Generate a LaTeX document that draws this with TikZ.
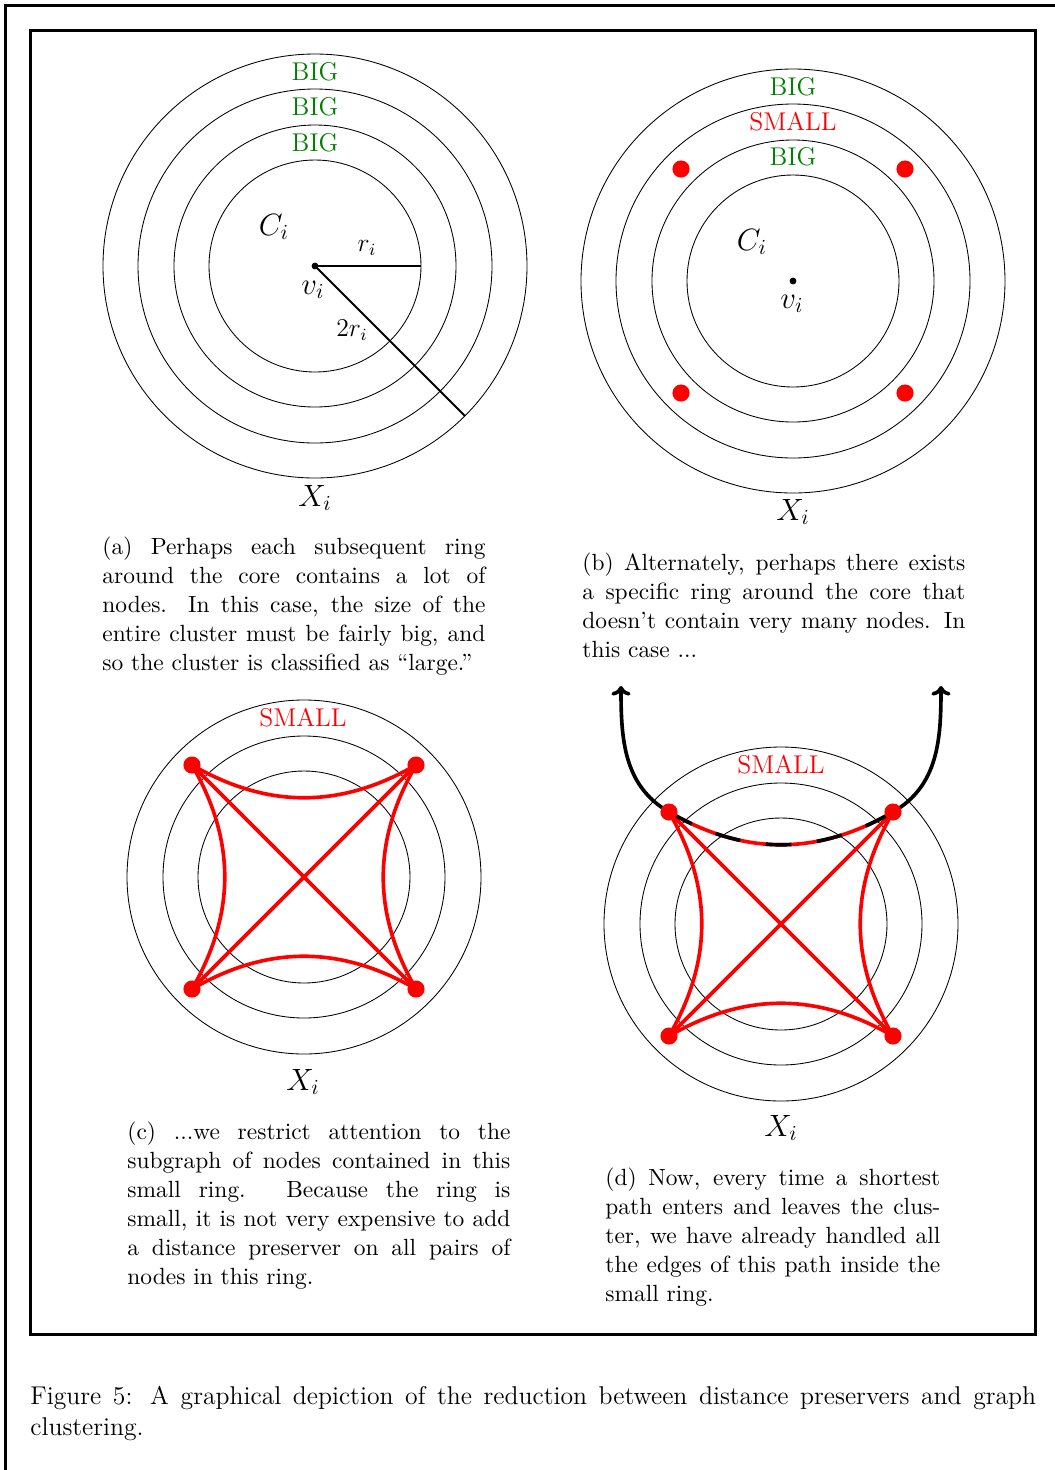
\documentclass[tikz,border=0pt]{standalone}
\usepackage{tikz}
\usetikzlibrary{backgrounds, arrows.meta}
\definecolor{bigcol}{rgb}{0,0.5,0}
\hyphenation{subgraph distance}

\begin{document}
\begin{tikzpicture}[
  x=0.4673pt, y=0.4673pt,
  every node/.style={font=\fontsize{12}{14.5}\selectfont},
  ring/.style={draw, line width=0.4pt},
  lbl/.style={inner sep=0pt},
  biglbl/.style={text=bigcol, inner sep=0pt},
  smalllbl/.style={text=red, inner sep=0pt},
  mlarge/.style={inner sep=0pt, font=\fontsize{14.4}{18}\selectfont},
  vdot/.style={circle, fill=black, inner sep=0pt, minimum size=3.2pt},
  rdot/.style={circle, fill=red, inner sep=0pt, minimum size=8pt},
  rline/.style={line width=0.9pt},
  redge/.style={red, line width=1.7pt},
  upath/.style={black, line width=1.7pt},
  tip/.style={-{To[length=4.5pt, width=9pt]}},
  subcap/.style={anchor=base west, inner sep=0pt, align=justify,
                 text width=179pt, font=\fontsize{10.95}{13.6}\selectfont},
]
\useasboundingbox (0,0) rectangle (1055,-1470);

%% frames
\draw[line width=1.6pt] (5.5,-1470) -- (5.5,-5.5) -- (1055,-5.5);
\draw[line width=1.25pt] (30.5,-30.5) rectangle (1035.5,-1334.5);

%% (a) every ring is big
\node[vdot] (va) at (315,-266) {};
\coordinate (ra) at (421,-266);
\coordinate (rb) at (465,-416);
\begin{scope}[on background layer]
  \foreach \r in {106,141,177,212}
    \draw[ring] (va.center) circle[radius=\r];
  \draw[rline] (va.center) -- (ra);
  \draw[rline] (va.center) -- (rb);
\end{scope}
\node[biglbl] (a1) at (315,-72)  {BIG};
\node[biglbl] (a2) at (315,-107) {BIG};
\node[biglbl] (a3) at (315,-143) {BIG};
\node[mlarge] (cia) at (274,-227) {$C_i$};
\node[lbl]    (ria) at (367,-248) {$r_i$};
\node[mlarge] (via) at (313,-290) {$v_i$};
\node[lbl]    (rra) at (352,-330) {$2r_i$};
\node[mlarge] (xia) at (315,-498) {$X_i$};

%% (b) one small ring
\node[vdot] (vb) at (793,-281) {};
\node[rdot] (b1) at (681,-169) {};
\node[rdot] (b2) at (905,-169) {};
\node[rdot] (b3) at (681,-393) {};
\node[rdot] (b4) at (905,-393) {};
\begin{scope}[on background layer]
  \foreach \r in {106,141,177,212}
    \draw[ring] (vb.center) circle[radius=\r];
\end{scope}
\node[biglbl]   (bl1) at (793,-87)  {BIG};
\node[smalllbl] (bl2) at (793,-122) {SMALL};
\node[biglbl]   (bl3) at (793,-157) {BIG};
\node[mlarge] (cib) at (752,-242) {$C_i$};
\node[mlarge] (vib) at (792,-304) {$v_i$};
\node[mlarge] (xib) at (793,-512) {$X_i$};

%% (c) preserver on the small ring
\coordinate (vc) at (304,-877);
\node[rdot] (c1) at (192,-765) {};
\node[rdot] (c2) at (416,-765) {};
\node[rdot] (c3) at (192,-989) {};
\node[rdot] (c4) at (416,-989) {};
\begin{scope}[on background layer]
  \foreach \r in {106,141,177}
    \draw[ring] (vc) circle[radius=\r];
  \draw[redge] (c1.center) to[bend right=30] (c2.center);
  \draw[redge] (c2.center) to[bend right=30] (c4.center);
  \draw[redge] (c4.center) to[bend right=30] (c3.center);
  \draw[redge] (c3.center) to[bend right=30] (c1.center);
  \draw[redge] (c1.center) -- (c4.center);
  \draw[redge] (c2.center) -- (c3.center);
\end{scope}
\node[smalllbl] (cl) at (303,-718) {SMALL};
\node[mlarge] (xic) at (303,-1082) {$X_i$};

%% (d) a shortest path through the cluster
\coordinate (vd) at (781,-924);
\node[rdot] (d1) at (669,-812) {};
\node[rdot] (d2) at (893,-812) {};
\node[rdot] (d3) at (669,-1036) {};
\node[rdot] (d4) at (893,-1036) {};
\coordinate (ul) at (621,-686);
\coordinate (ur) at (941,-686);
\begin{scope}[on background layer]
  \foreach \r in {106,141,177}
    \draw[ring] (vd) circle[radius=\r];
  \draw[redge] (d1.center) to[bend right=30] (d2.center);
  \draw[redge] (d2.center) to[bend right=30] (d4.center);
  \draw[redge] (d4.center) to[bend right=30] (d3.center);
  \draw[redge] (d3.center) to[bend right=30] (d1.center);
  \draw[redge] (d1.center) -- (d4.center);
  \draw[redge] (d2.center) -- (d3.center);
  \draw[upath, tip] (d1.center) to[out=150, in=-90] (ul);
  \draw[upath, tip] (d2.center) to[out=30, in=-90] (ur);
  \draw[upath, dash pattern=on 12pt off 12pt]
    (d1.center) to[bend right=30] (d2.center);
\end{scope}
\node[smalllbl] (dl) at (781,-765) {SMALL};
\node[mlarge] (xid) at (781,-1128) {$X_i$};

%% subcaptions
\node[subcap] (capa) at (102,-554) {(a) Perhaps each subsequent ring
  around the core contains a lot of nodes. In this case, the size of the
  entire cluster must be fairly big, and so the cluster is classified as
  ``large.''};
\node[subcap] (capb) at (582,-570) {(b) Alternately, perhaps there exists
  a specific ring around the core that doesn't contain very many nodes.
  In this case ...};
\node[subcap] (capc) at (127,-1139) {(c) ...we restrict attention to the
  subgraph of nodes contained in this small ring. Because the ring
  is\linebreak small, it is not very expensive to add a distance preserver
  on all pairs of nodes in this ring.};
\node[subcap, text width=156.5pt] (capd) at (605,-1185) {(d) Now, every
  time a shortest path enters and leaves the cluster, we have already
  handled all the edges of this path inside the small ring.};

%% figure caption
\node[anchor=base west, inner sep=0pt, text width=470pt, align=justify]
  (fig) at (30,-1404) {Figure 5: A graphical depiction of the reduction
  between distance preservers and graph clustering.};

\end{tikzpicture}
\end{document}
